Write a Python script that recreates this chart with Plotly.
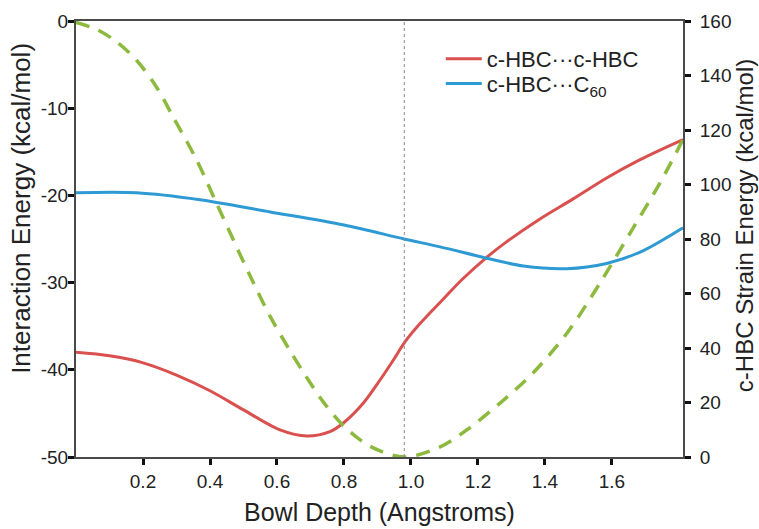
import plotly.graph_objects as go

# Bowl depth (Angstroms) and series values
red_x = [0.0, 0.1, 0.2, 0.3, 0.4, 0.5, 0.609, 0.689, 0.758, 0.798, 0.858, 0.907, 0.947, 0.982, 1.027, 1.096, 1.151, 1.226, 1.286, 1.385, 1.484, 1.584, 1.684, 1.812]
red_y = [-38.0, -38.4, -39.2, -40.6, -42.4, -44.6, -46.9, -47.6, -47.1, -46.1, -43.8, -41.2, -38.9, -36.8, -34.7, -31.9, -29.7, -27.1, -25.3, -22.7, -20.4, -18.0, -15.9, -13.6]

blue_x = [0.0, 0.18, 0.37, 0.58, 0.8, 0.98, 1.087, 1.226, 1.336, 1.465, 1.584, 1.684, 1.812]
blue_y = [-19.7, -19.7, -20.5, -21.9, -23.4, -25.0, -25.9, -27.2, -28.1, -28.4, -27.8, -26.5, -23.7]

green_x = [0.0, 0.06, 0.12, 0.18, 0.24, 0.29, 0.36, 0.42, 0.47, 0.52, 0.58, 0.636, 0.687, 0.742, 0.804, 0.88, 0.98, 1.087, 1.167, 1.266, 1.364, 1.466, 1.564, 1.663, 1.743, 1.812]
green_y = [159.5, 157.0, 152.5, 145.7, 135.8, 124.8, 109.0, 93.0, 79.6, 66.4, 51.5, 39.6, 29.5, 19.6, 10.8, 3.8, 0.0, 3.7, 10.0, 19.8, 30.8, 45.5, 63.8, 84.0, 100.5, 116.5]

x_ticks = [0.2, 0.4, 0.6, 0.8, 1.0, 1.2, 1.4, 1.6]
x_labels = ["0.2", "0.4", "0.6", "0.8", "1.0", "1.2", "1.4", "1.6"]
left_ticks = [0, -10, -20, -30, -40, -50]
right_ticks = [0, 20, 40, 60, 80, 100, 120, 140, 160]
marker_x = 0.98

series_names = ["c-HBC\u00b7\u00b7\u00b7c-HBC", "c-HBC\u00b7\u00b7\u00b7C<sub>60</sub>"]

FONT = "Liberation Sans, Arial, Helvetica, sans-serif"
RED = "#D9504E"
BLUE = "#2E9AD4"
GREEN = "#8DBA3E"
AXIS = "#4A4A4A"
TXT = "#222222"

fig = go.Figure()
fig.add_trace(go.Scatter(x=red_x, y=red_y, mode="lines", name=series_names[0], legend="legend",
                         line=dict(color=RED, width=3, shape="spline", smoothing=0.9)))
fig.add_trace(go.Scatter(x=blue_x, y=blue_y, mode="lines", name=series_names[1], legend="legend2",
                         line=dict(color=BLUE, width=3, shape="spline", smoothing=0.9)))
fig.add_trace(go.Scatter(x=green_x, y=green_y, mode="lines", showlegend=False, yaxis="y2",
                         line=dict(color=GREEN, width=3.5, dash="14px,10px", shape="spline", smoothing=0.9)))

fig.add_shape(type="line", xref="x", yref="paper", x0=marker_x, x1=marker_x, y0=0, y1=1,
              line=dict(color="#888888", width=1, dash="dot"))

legend_common = dict(xanchor="left", yanchor="middle", bgcolor="rgba(0,0,0,0)",
                     font=dict(size=22, color=TXT, family=FONT), itemwidth=36)
axis_common = dict(showgrid=False, zeroline=False, showline=True, linecolor=AXIS, linewidth=2,
                   ticks="outside", ticklen=6, tickwidth=3, tickcolor="#111111",
                   tickfont=dict(size=19, color=TXT, family=FONT))

fig.update_layout(
    width=759, height=529,
    margin=dict(l=76, r=76, t=21, b=72),
    paper_bgcolor="white", plot_bgcolor="white",
    font=dict(family=FONT, color=TXT, size=19),
    showlegend=True,
    legend=dict(x=0.601, y=0.9128, **legend_common),
    legend2=dict(x=0.601, y=0.856, **legend_common),
    xaxis=dict(range=[0, 1.812], tickvals=x_ticks, ticktext=x_labels, mirror=True,
               ticklabelstandoff=0, **axis_common),
    yaxis=dict(range=[-50, 0], tickvals=left_ticks, ticktext=[str(v) for v in left_ticks],
               ticklabelstandoff=-4, **axis_common),
    yaxis2=dict(range=[0, 160], tickvals=right_ticks, ticktext=[str(v) for v in right_ticks],
                overlaying="y", side="right", ticklabelstandoff=5, **axis_common),
    annotations=[
        dict(text="Bowl Depth (Angstroms)", xref="paper", yref="paper", x=0.5, y=-0.126,
             xanchor="center", yanchor="middle", showarrow=False, font=dict(size=25)),
        dict(text="Interaction Energy (kcal/mol)", xref="paper", yref="paper", x=-0.09, y=0.57,
             xanchor="center", yanchor="middle", textangle=-90, showarrow=False, font=dict(size=26)),
        dict(text="c-HBC Strain Energy (kcal/mol)", xref="paper", yref="paper", x=1.1025, y=0.53,
             xanchor="center", yanchor="middle", textangle=-90, showarrow=False, font=dict(size=24)),
    ],
)

fig.write_html("out.html")
